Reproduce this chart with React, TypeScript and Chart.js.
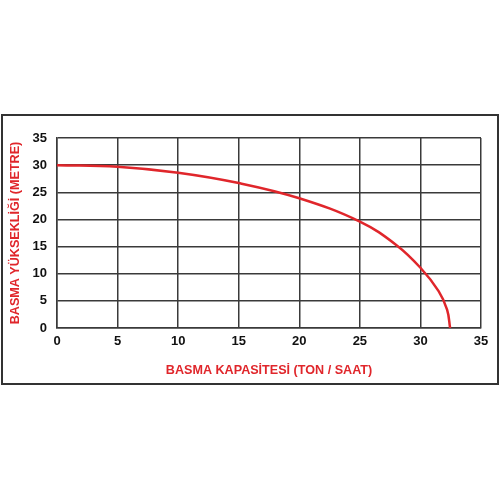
import React, { useEffect, useRef } from "react";
import { Chart, registerables } from "chart.js";

Chart.register(...registerables);

const flowValues = [0, 5, 10, 15, 20, 25, 28, 30, 31.5, 32.2, 32.45];
const headValues = [30, 29.7, 28.6, 26.7, 23.9, 19.6, 15.3, 11.1, 6.8, 3.4, 0];
const xTicks = [0, 5, 10, 15, 20, 25, 30, 35];
const yTicks = [0, 5, 10, 15, 20, 25, 30, 35];
const xTitle = "BASMA KAPASİTESİ (TON / SAAT)";
const yTitle = "BASMA YÜKSEKLİĞİ (METRE)";

const RED = "#e0262b";
const FONT = "'Liberation Sans', Arial, sans-serif";

export default function App() {
  const ref = useRef<HTMLCanvasElement | null>(null);
  useEffect(() => {
    if (!ref.current) return;
    const chart = new Chart(ref.current, {
      type: "scatter",
      data: {
        datasets: [
          {
            data: flowValues.map((x, i) => ({ x, y: headValues[i] })),
            showLine: true,
            borderColor: RED,
            borderWidth: 2.5,
            pointRadius: 0,
            tension: 0.4,
            fill: false,
          },
        ],
      },
      options: {
        animation: false,
        responsive: false,
        maintainAspectRatio: false,
        layout: { padding: { top: 138, right: 19, bottom: 116, left: 0 } },
        plugins: { legend: { display: false }, tooltip: { enabled: false } },
        scales: {
          x: {
            type: "linear",
            min: 0,
            max: 35,
            afterBuildTicks: (s: any) => {
              s.ticks = xTicks.map((v) => ({ value: v }));
            },
            afterFit: (s: any) => {
              s.height = 56;
            },
            grid: { color: "#3a3a3a", lineWidth: 1.5, drawTicks: false },
            border: { color: "#3a3a3a", width: 1.5 },
            ticks: {
              color: "#111",
              padding: 6,
              font: { family: FONT, size: 13, weight: "bold" },
            },
            title: {
              display: true,
              text: xTitle,
              color: RED,
              padding: { top: 0, bottom: 6 },
              font: { family: FONT, size: 12.6, weight: "bold" },
            },
          },
          y: {
            type: "linear",
            min: 0,
            max: 35,
            afterBuildTicks: (s: any) => {
              s.ticks = yTicks.map((v) => ({ value: v }));
            },
            afterFit: (s: any) => {
              s.width = 57;
            },
            grid: { color: "#3a3a3a", lineWidth: 1.5, drawTicks: false },
            border: { color: "#3a3a3a", width: 1.5 },
            ticks: {
              color: "#111",
              padding: 10,
              font: { family: FONT, size: 13, weight: "bold" },
            },
            title: {
              display: true,
              text: yTitle,
              color: RED,
              padding: { top: 8, bottom: 0 },
              font: { family: FONT, size: 12.6, weight: "bold" },
            },
          },
        },
      },
      plugins: [
        {
          id: "outerFrame",
          afterDraw(c: any) {
            const ctx = c.ctx;
            ctx.save();
            ctx.strokeStyle = "#333";
            ctx.lineWidth = 2;
            ctx.strokeRect(2, 115, 496, 269);
            ctx.restore();
          },
        },
      ],
    });
    return () => chart.destroy();
  }, []);
  return (
    <div style={{ position: "fixed", left: 0, top: 0, width: 500, height: 500, background: "#fff" }}>
      <canvas ref={ref} width={500} height={500} style={{ width: 500, height: 500, display: "block" }} />
    </div>
  );
}
